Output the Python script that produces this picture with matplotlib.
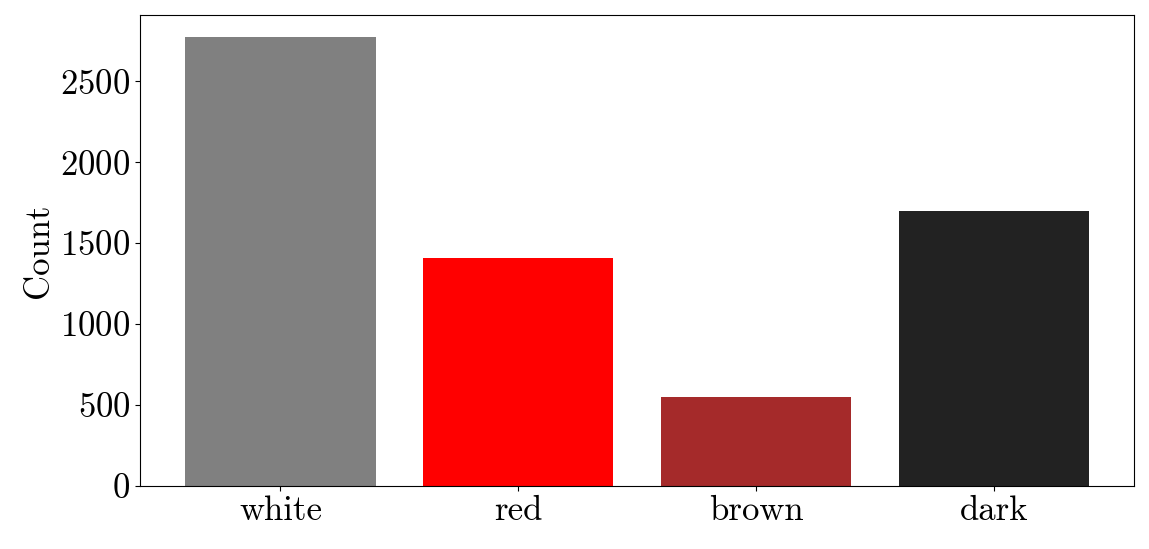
import matplotlib
matplotlib.use("Agg")
import matplotlib.pyplot as plt

categories = ["white", "red", "brown", "dark"]
counts = [2772, 1407, 549, 1697]
colors = ["#808080", "#ff0000", "#a52a2a", "#222222"]

plt.rcParams["font.family"] = "serif"
plt.rcParams["font.serif"] = ["cmr10"]
plt.rcParams["mathtext.fontset"] = "cm"
plt.rcParams["axes.formatter.use_mathtext"] = True
plt.rcParams["font.size"] = 25

fig, ax = plt.subplots(figsize=(11.49, 5.49), dpi=100)
ax.bar(categories, counts, color=colors, width=0.8)
ax.set_ylabel("Count")
ax.set_yticks([0, 500, 1000, 1500, 2000, 2500])
fig.subplots_adjust(left=0.122, right=0.987, top=0.973, bottom=0.115)
fig.savefig("out.png", dpi=100)
